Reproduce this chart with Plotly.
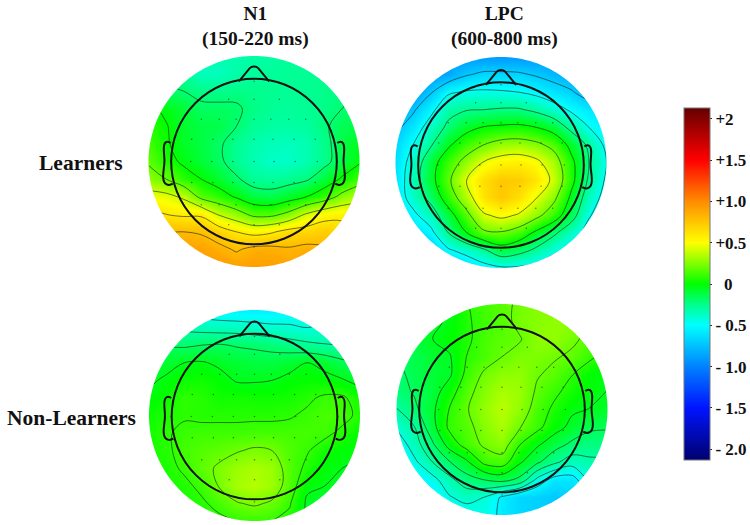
import numpy as np
import plotly.graph_objects as go

W, H = 750, 525
FONT = "Liberation Serif"

# ---- data: scalp voltage on a 13 x 13 grid, top row = front of head ----
grid_axis = [-1, -5/6, -4/6, -3/6, -2/6, -1/6, 0, 1/6, 2/6, 3/6, 4/6, 5/6, 1]

learners_n1 = [
 [-.20,-.22,-.25,-.30,-.33,-.32,-.30,-.30,-.28,-.27,-.25,-.22,-.20],
 [-.25,-.25,-.28,-.36,-.36,-.31,-.28,-.28,-.27,-.27,-.25,-.22,-.20],
 [-.15,-.18,-.20,-.24,-.25,-.24,-.25,-.26,-.27,-.26,-.25,-.23,-.20],
 [ .03,-.03,-.10,-.17,-.17,-.18,-.24,-.27,-.28,-.27,-.24,-.20,-.15],
 [ .07, .01,-.08,-.12,-.13,-.20,-.27,-.30,-.30,-.29,-.22,-.15,-.12],
 [ .13, .02,-.07,-.12,-.18,-.26,-.32,-.35,-.36,-.33,-.25,-.12,-.05],
 [ .18, .06,-.03,-.10,-.17,-.27,-.33,-.38,-.38,-.33,-.25,-.12,-.02],
 [ .27, .20, .08, .00,-.08,-.18,-.27,-.28,-.26,-.22,-.10, .02, .12],
 [ .47, .45, .37, .15, .08,-.02,-.12,-.14,-.08, .00, .10, .25, .35],
 [ .68, .60, .57, .57, .38, .28, .15, .15, .25, .42, .52, .55, .50],
 [ .90, .80, .80, .78, .70, .60, .54, .58, .66, .68, .72, .68, .60],
 [ .95, .95, .92, .90, .85, .78, .85, .85, .82, .85, .82, .78, .70],
 [ .95, .95, .95, .95, .95, .92, .92, .92, .92, .90, .88, .85, .80],
]
learners_lpc = [
 [-.80,-.80,-.85,-.88,-.90,-.90,-.90,-.90,-.90,-.88,-.85,-.80,-.75],
 [-.90,-.90,-.90,-.85,-.72,-.66,-.66,-.67,-.72,-.78,-.83,-.88,-.88],
 [-.95,-.90,-.72,-.50,-.45,-.44,-.45,-.47,-.52,-.60,-.68,-.80,-.80],
 [-.85,-.73,-.53,-.30,-.25,-.24,-.22,-.22,-.28,-.38,-.50,-.58,-.62],
 [-.75,-.60,-.37,-.20,-.08, .00, .02, .03,-.01,-.10,-.30,-.47,-.55],
 [-.65,-.47,-.26,-.04, .12, .22, .30, .32, .27, .16,-.07,-.28,-.52],
 [-.62,-.38,-.10, .12, .28, .46, .54, .56, .50, .33, .04,-.24,-.47],
 [-.60,-.35,-.08, .18, .44, .64, .74, .72, .62, .40, .05,-.27,-.50],
 [-.60,-.38,-.18, .10, .34, .62, .74, .64, .46, .27,-.05,-.35,-.55],
 [-.70,-.52,-.35,-.10, .15, .42, .50, .43, .28, .10,-.15,-.45,-.60],
 [-.75,-.65,-.53,-.24,-.02, .18, .20, .12,-.05,-.20,-.38,-.55,-.70],
 [-.85,-.80,-.70,-.50,-.40,-.28,-.10,-.17,-.28,-.42,-.55,-.70,-.80],
 [-.85,-.85,-.80,-.75,-.65,-.55,-.50,-.50,-.55,-.65,-.75,-.80,-.85],
]
nonlearners_n1 = [
 [-.40,-.42,-.45,-.50,-.53,-.55,-.55,-.55,-.52,-.50,-.45,-.42,-.40],
 [-.28,-.30,-.33,-.35,-.36,-.36,-.38,-.40,-.41,-.43,-.42,-.38,-.35],
 [-.18,-.18,-.19,-.17,-.16,-.18,-.19,-.21,-.24,-.27,-.29,-.30,-.30],
 [-.12,-.08,-.04,-.03,-.06,-.09,-.11,-.11,-.08,-.04,-.08,-.14,-.18],
 [-.06,-.02, .02, .03, .00,-.05,-.05,-.04,-.01, .01, .00,-.03,-.08],
 [-.02, .02, .09, .07, .03, .04, .03, .03, .04, .07, .11, .11, .03],
 [ .02, .06, .08, .07, .07, .07, .07, .07, .08, .11, .14, .13, .06],
 [ .04, .08, .11, .12, .12, .12, .13, .13, .13, .13, .12, .06, .00],
 [ .04, .07, .13, .16, .18, .21, .24, .22, .15, .10, .03,-.01,-.03],
 [ .03, .05, .11, .18, .24, .30, .33, .30, .16, .06,-.02,-.04,-.05],
 [ .00, .03, .06, .12, .23, .32, .35, .30, .16,-.02,-.04,-.06,-.08],
 [-.02, .01, .03, .07, .13, .21, .24, .20, .10,-.06,-.10,-.12,-.12],
 [ .00, .02, .03, .04, .06, .09, .10, .09, .06,-.05,-.10,-.12,-.12],
]
nonlearners_lpc = [
 [-.10,-.10,-.08,-.03, .07, .13, .17, .22, .25, .25, .20, .15, .10],
 [-.10,-.10,-.09,-.02, .06, .12, .16, .23, .26, .28, .28, .20, .15],
 [-.12,-.10,-.05, .00, .05, .14, .17, .19, .27, .28, .22, .17, .12],
 [-.17,-.14,-.09,-.06, .08, .14, .20, .24, .24, .21, .18, .10, .03],
 [-.20,-.14,-.10,-.07, .11, .22, .27, .28, .21, .17, .08, .00,-.03],
 [-.22,-.16,-.11, .02, .16, .26, .33, .30, .18, .10, .03,-.02,-.05],
 [-.30,-.20,-.08, .08, .19, .29, .36, .28, .14, .05,-.03,-.05,-.07],
 [-.40,-.30,-.10, .10, .16, .26, .33, .21, .11, .00,-.08,-.15,-.16],
 [-.52,-.35,-.20, .00, .13, .22, .27, .08,-.03,-.12,-.20,-.23,-.22],
 [-.60,-.45,-.30,-.18,-.07, .11, .14,-.03,-.15,-.27,-.36,-.32,-.32],
 [-.65,-.58,-.47,-.33,-.22,-.17,-.13,-.20,-.45,-.60,-.60,-.40,-.38],
 [-.65,-.65,-.58,-.43,-.37,-.42,-.56,-.66,-.68,-.72,-.66,-.55,-.45],
 [-.65,-.65,-.62,-.58,-.50,-.45,-.58,-.65,-.68,-.70,-.65,-.50,-.45],
]

# electrode rows: (row height, x positions), scalp coordinates
electrode_rows = [
 (.76, [0]),
 (.59, [-.24, 0, .24]),
 (.40, [-.50, -.33, -.17, 0, .16, .33, .49]),
 (.21, [-.59, -.39, -.20, 0, .18, .38, .58]),
 (.00, [-.79, -.60, -.40, -.20, 0, .19, .39, .60, .79]),
 (-.20, [-.59, -.39, -.20, 0, .18, .38, .58]),
 (-.41, [-.50, -.33, -.17, 0, .16, .33, .49]),
 (-.60, [-.24, 0, .24]),
 (-.81, [0]),
]

tick_vals = [2, 1.5, 1, .5, 0, -.5, -1, -1.5, -2]
tick_text = ["+2", "+1.5", "+1.0", "+0.5", "\u00a0\u00a00", "- 0.5", "- 1.0", "- 1.5", "- 2.0"]
col_titles = ["N1<br>(150-220 ms)", "LPC<br>(600-800 ms)"]
row_titles = ["Learners", "Non-Learners"]

# ---- layout constants ----
CMIN, CMAX = -2.13, 2.13
anchors = [(-2.13,"rgb(0,0,110)"),(-1.5,"rgb(0,20,255)"),(-1,"rgb(0,130,255)"),(-.5,"rgb(0,255,255)"),
           (-.25,"rgb(0,255,140)"),(0,"rgb(0,255,0)"),(.25,"rgb(130,255,0)"),(.5,"rgb(255,255,0)"),
           (1,"rgb(255,140,0)"),(1.5,"rgb(255,0,0)"),(2.13,"rgb(100,0,0)")]
colorscale = [[(v-CMIN)/(CMAX-CMIN), c] for v, c in anchors]

panels = [
 dict(z=learners_n1,     cx=254,   cy=161.5, R=105.5, dy=0,     start=-.2,  size=.2,  end=.8),
 dict(z=learners_lpc,    cx=501,   cy=162.5, R=105.5, dy=-.024, start=-.7,  size=.23, end=.46),
 dict(z=nonlearners_n1,  cx=254.5, cy=415.5, R=105.5, dy=-.01,  start=-.43, size=.13, end=.23),
 dict(z=nonlearners_lpc, cx=502,   cy=409.5, R=105.5, dy=0,     start=-.54, size=.1233, end=.2),
]
HEAD_R = .785
AX = 1.1   # axis half-range: the image ends inside the plot area, the ring mask trims it

theta = np.linspace(0, 2*np.pi, 181)
mask_ring = " ".join(f"{'M' if i == 0 else 'L'} {np.cos(t):.4f},{np.sin(t):.4f}" for i, t in enumerate(theta))
mask_path = f"M -1.3,-1.3 L 1.3,-1.3 L 1.3,1.3 L -1.3,1.3 Z {mask_ring} Z"

def nose_path(dy):
    y = lambda v: v + dy
    return (f"M -.143,{y(.76):.3f} L -.04,{y(.885):.3f} C -.02,{y(.905):.3f} .02,{y(.905):.3f} .04,{y(.885):.3f} "
            f"L .143,{y(.76):.3f}")

def ear_path(sign, dy):
    y = lambda v: v + dy
    s = sign
    return (f"M {s*.79:.3f},{y(.175):.3f} C {s*.82:.3f},{y(.20):.3f} {s*.855:.3f},{y(.19):.3f} {s*.855:.3f},{y(.12):.3f} "
            f"C {s*.855:.3f},{y(.06):.3f} {s*.845:.3f},{y(.04):.3f} {s*.85:.3f},{y(-.02):.3f} "
            f"C {s*.855:.3f},{y(-.08):.3f} {s*.865:.3f},{y(-.12):.3f} {s*.86:.3f},{y(-.16):.3f} "
            f"C {s*.855:.3f},{y(-.22):.3f} {s*.81:.3f},{y(-.235):.3f} {s*.77:.3f},{y(-.21):.3f}")

fig = go.Figure()
shapes = []
layout_axes = {}
OUT = "#111111"
for i, p in enumerate(panels, start=1):
    xa, ya = ("x", "y") if i == 1 else (f"x{i}", f"y{i}")
    xname, yname = ("xaxis", "yaxis") if i == 1 else (f"xaxis{i}", f"yaxis{i}")
    r_px = p["R"] * AX
    bottom_px = min(H, p["cy"] + r_px)
    layout_axes[xname] = dict(domain=[(p["cx"]-r_px)/W, (p["cx"]+r_px)/W], range=[-AX, AX], visible=False,
                              anchor=ya, fixedrange=True)
    layout_axes[yname] = dict(domain=[1-bottom_px/H, 1-(p["cy"]-r_px)/H],
                              range=[-(bottom_px-p["cy"])/p["R"], AX], visible=False,
                              anchor=xa, fixedrange=True)
    z = np.array(p["z"])[::-1]
    fig.add_trace(go.Heatmap(x=grid_axis, y=grid_axis, z=z, zsmooth="best", coloraxis="coloraxis",
                             xaxis=xa, yaxis=ya, hoverinfo="skip"))
    fig.add_trace(go.Contour(x=grid_axis, y=grid_axis, z=z, xaxis=xa, yaxis=ya, showscale=False,
                             autocontour=False, hoverinfo="skip",
                             contours=dict(coloring="none", start=p["start"], end=p["end"], size=p["size"]),
                             line=dict(color="rgba(20,30,20,0.75)", width=0.8, smoothing=1.0)))
    ex = [x for _, xs in electrode_rows for x in xs]
    ey = [r + p["dy"] for r, xs in electrode_rows for _ in xs]
    fig.add_trace(go.Scatter(x=ex, y=ey, mode="markers", xaxis=xa, yaxis=ya, hoverinfo="skip",
                             marker=dict(size=1.5, color="rgba(0,0,0,0.5)", line=dict(width=0))))
    ref = dict(xref=xa, yref=ya, layer="above")
    shapes.append(dict(type="path", path=mask_path, fillcolor="white", line=dict(width=0), **ref))
    head_line = dict(color=OUT, width=2)
    shapes.append(dict(type="circle", x0=-HEAD_R, x1=HEAD_R, y0=-HEAD_R+p["dy"], y1=HEAD_R+p["dy"], line=head_line, **ref))
    shapes.append(dict(type="path", path=nose_path(p["dy"]), line=head_line, **ref))
    shapes.append(dict(type="path", path=ear_path(-1, p["dy"]), line=head_line, **ref))
    shapes.append(dict(type="path", path=ear_path(1, p["dy"]), line=head_line, **ref))

title_font = dict(family=FONT, size=19.5, color="#111111", weight="bold")
row_font = dict(family=FONT, size=21.5, color="#111111", weight="bold")
annotations = []
for x, t in zip([255, 504], col_titles):
    annotations.append(dict(text=t, x=x/W, y=1-27/H, xref="paper", yref="paper", showarrow=False, font=title_font,
                            xanchor="center", yanchor="middle", align="center"))
for (x, y), t in zip([(81, 163), (71.5, 418)], row_titles):
    annotations.append(dict(text=t, x=x/W, y=1-y/H, xref="paper", yref="paper", showarrow=False, font=row_font,
                            xanchor="center", yanchor="middle"))

fig.update_layout(
    width=W, height=H, margin=dict(l=0, r=0, t=0, b=0), paper_bgcolor="white", plot_bgcolor="white",
    showlegend=False, shapes=shapes, annotations=annotations,
    coloraxis=dict(cmin=CMIN, cmax=CMAX, colorscale=colorscale,
                   colorbar=dict(x=683.5/W, xanchor="left", xpad=0, ypad=0, thickness=26, thicknessmode="pixels",
                                 y=(H-460)/H, yanchor="bottom", len=352/H, lenmode="fraction",
                                 outlinecolor="#777777", outlinewidth=1, tickmode="array",
                                 tickvals=tick_vals, ticktext=tick_text, ticks="outside", ticklen=2, tickwidth=1,
                                 tickcolor="#222222",
                                 tickfont=dict(family=FONT, size=17, color="#111111", weight="bold"))),
    **layout_axes,
)
fig.write_html("out.html", config={"displayModeBar": False},
               post_script="document.body.style.margin='0';document.documentElement.style.overflow='hidden';")
